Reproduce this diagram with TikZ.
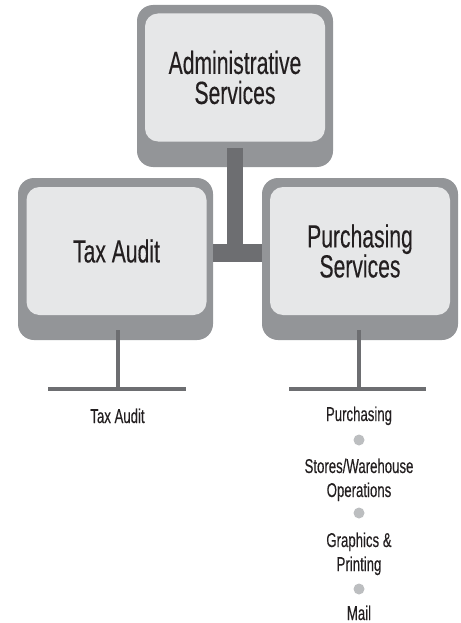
\documentclass[tikz,border=0pt]{standalone}
\usepackage{fontspec}
\setmainfont{Liberation Sans}[FakeStretch=0.66, FakeBold=0.3]

\definecolor{framegray}{HTML}{939598}
\definecolor{panelgray}{HTML}{E6E7E8}
\definecolor{trunkgray}{HTML}{6D6E71}
\definecolor{dotgray}{HTML}{BCBEC0}
\definecolor{inkblack}{HTML}{231F20}

\tikzset{
  frame/.style={fill=framegray, rounded corners=16pt, inner sep=0pt,
    minimum width=196pt, minimum height=162pt},
  panel/.style={fill=panelgray, rounded corners=13pt, inner sep=0pt,
    minimum width=180pt, minimum height=128pt, align=center,
    text=inkblack, font=\fontsize{32}{30}\selectfont},
  trunk/.style={draw=trunkgray},
  twig/.style={draw=trunkgray, line width=4.5pt},
  item/.style={text=inkblack, align=center, anchor=base,
    font=\fontsize{20}{24}\selectfont},
  bullet/.style={circle, fill=dotgray, inner sep=0pt, minimum size=11pt}
}

\begin{document}
\begin{tikzpicture}[x=1pt,y=-1pt]
\useasboundingbox (0,0) rectangle (460,623);

% boxes
\node[frame] (admframe) at (235,86) {};
\node[panel] (adm) at (235,77.5) {Administrative\\Services};
\node[frame, minimum width=195pt] (taxframe) at (115.5,259) {};
\node[panel] (tax) at (116.5,251) {Tax Audit};
\node[frame] (purframe) at (360,259) {};
\node[panel] (pur) at (360,251) {Purchasing\\Services};

% trunk
\coordinate (bar) at ([yshift=6pt]taxframe.east);
\draw[trunk, line width=18pt] (bar) -- ([yshift=6pt]purframe.west);
\draw[trunk, line width=16pt] ([yshift=19pt]admframe.south)
  -- ([yshift=-9pt]admframe.south |- bar);

% feet
\coordinate (taxroot) at (118,389);
\coordinate (taxleft) at (48,389);
\coordinate (taxright) at (186,389);
\draw[twig] ([yshift=10pt]taxframe.south -| taxroot) -- (taxroot);
\draw[twig] (taxleft) -- (taxright);

\coordinate (purroot) at (359,389);
\coordinate (purleft) at (289,389);
\coordinate (purright) at (426,389);
\draw[twig] ([yshift=10pt]purframe.south -| purroot) -- (purroot);
\draw[twig] (purleft) -- (purright);

% units (base = last line)
\node[item] (taxunit) at (117.5,423) {Tax Audit};

\node[item] (purch) at (359,421) {Purchasing};
\node[bullet] (dot1) at (359,440) {};
\node[item] (stores) at (359,497) {Stores/Warehouse\\Operations};
\node[bullet] (dot2) at (359,513) {};
\node[item] (graph) at (359,571) {Graphics \&\\Printing};
\node[bullet] (dot3) at (359,589) {};
\node[item] (mail) at (359,620) {Mail};
\end{tikzpicture}
\end{document}
